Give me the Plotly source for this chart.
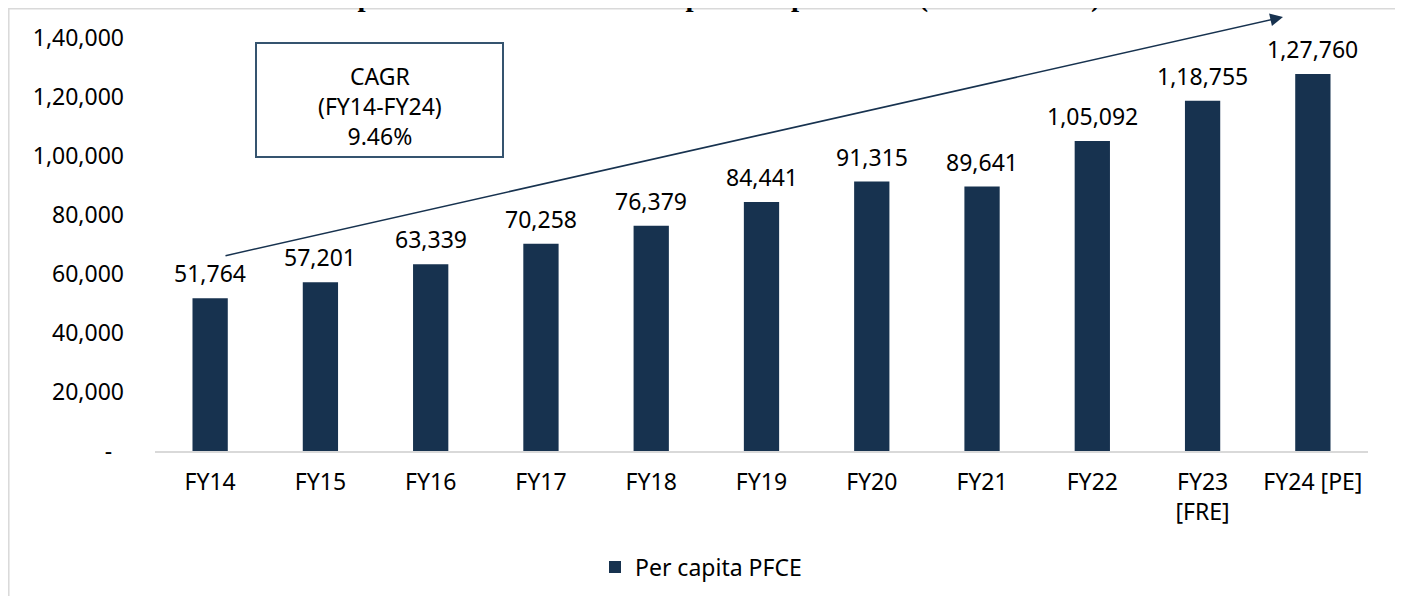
import plotly.graph_objects as go

# ---- data ----
categories = ["FY14", "FY15", "FY16", "FY17", "FY18", "FY19", "FY20", "FY21",
              "FY22", "FY23<br>[FRE]", "FY24 [PE]"]
per_capita_pfce = [51764, 57201, 63339, 70258, 76379, 84441, 91315, 89641,
                   105092, 118755, 127760]
series_name = "Per capita PFCE"
y_tickvals = [0, 20000, 40000, 60000, 80000, 100000, 120000, 140000]
y_ticktext = ["-\u00a0\u00a0", "20,000", "40,000", "60,000", "80,000",
              "1,00,000", "1,20,000", "1,40,000"]
cagr_text = "CAGR<br>(FY14-FY24)<br>9.46%"
title_text = "Per capita Private Final Consumption Expenditure (in INR terms)"


def indian_format(n):
    s = str(int(n))
    if len(s) <= 3:
        return s
    head, tail = s[:-3], s[-3:]
    parts = []
    while len(head) > 2:
        parts.insert(0, head[-2:])
        head = head[:-2]
    if head:
        parts.insert(0, head)
    return ",".join(parts) + "," + tail


labels = [indian_format(v) for v in per_capita_pfce]

BAR = "#17324f"
FONT = "Tahoma, Noto Sans, sans-serif"
FS = 23

# page body has an 8px margin: figure coordinates = viewport - 8
OFF = 8
W, H = 1395, 588
L, R, T, B = 147, 35, 30, 145
PW, PH = W - L - R, H - T - B


def px_x(x):
    """viewport pixel x -> paper"""
    return (x - OFF - L) / PW


def px_y(y):
    """viewport pixel y -> paper"""
    return (H - B - (y - OFF)) / PH


fig = go.Figure()
fig.add_trace(go.Bar(
    x=categories, y=per_capita_pfce, name=series_name,
    marker=dict(color=BAR, line=dict(width=0)),
    width=0.32, showlegend=True, hoverinfo="x+y"))

ann = []
for c, v, t in zip(categories, per_capita_pfce, labels):
    ann.append(dict(x=c, y=v, xref="x", yref="y", text=t, showarrow=False,
                    yanchor="middle", yshift=25,
                    font=dict(family=FONT, size=FS, color="#000000")))

# CAGR box text
ann.append(dict(x=px_x(380), y=px_y(106), xref="paper", yref="paper",
                text=cagr_text, showarrow=False, align="center",
                xanchor="center", yanchor="middle",
                font=dict(family=FONT, size=FS, color="#000000")))

# trend arrow
ann.append(dict(x=px_x(1283), y=px_y(17), xref="paper", yref="paper",
                ax=224 - 1283, ay=256 - 17, axref="pixel", ayref="pixel",
                text="", showarrow=True, arrowhead=2, arrowsize=1.6,
                arrowwidth=1.6, arrowcolor=BAR))

# title (mostly cut off above the page, as in the reference)
ann.append(dict(x=px_x(690), y=px_y(15), xref="paper", yref="paper",
                text="<b>" + title_text + "</b>", showarrow=False,
                xanchor="center", yanchor="bottom",
                font=dict(family="Liberation Serif, Times New Roman, serif",
                          size=29, color="#000000")))

shapes = [
    # outer chart border
    dict(type="rect", xref="paper", yref="paper",
         x0=px_x(8.8), x1=px_x(1397), y0=px_y(610), y1=px_y(8.8),
         line=dict(color="#d9d9d9", width=1.5), fillcolor="rgba(0,0,0,0)",
         layer="below"),
    # CAGR box
    dict(type="rect", xref="paper", yref="paper",
         x0=px_x(256), x1=px_x(503), y0=px_y(157), y1=px_y(43),
         line=dict(color="#35546f", width=2), fillcolor="white",
         layer="above"),
]

fig.update_layout(
    width=W, height=H,
    margin=dict(l=L, r=R, t=T, b=B, autoexpand=False),
    paper_bgcolor="white", plot_bgcolor="white",
    font=dict(family=FONT, size=FS, color="#000000"),
    bargap=0.68,
    showlegend=True,
    legend=dict(orientation="h", x=px_x(595), y=px_y(567),
                xanchor="left", yanchor="middle",
                font=dict(family=FONT, size=FS, color="#000000"),
                bgcolor="rgba(0,0,0,0)"),
    annotations=ann, shapes=shapes,
    xaxis=dict(showline=True, linecolor="#d9d9d9", linewidth=1.5,
               showgrid=False, ticks="", zeroline=False,
               ticklabelstandoff=10,
               tickfont=dict(family=FONT, size=FS, color="#000000")),
    yaxis=dict(range=[0, 140000], tickvals=y_tickvals, ticktext=y_ticktext,
               showgrid=False, zeroline=False, showline=False, ticks="",
               ticklabelstandoff=30,
               tickfont=dict(family=FONT, size=FS, color="#000000")),
)

fig.write_html("out.html")
